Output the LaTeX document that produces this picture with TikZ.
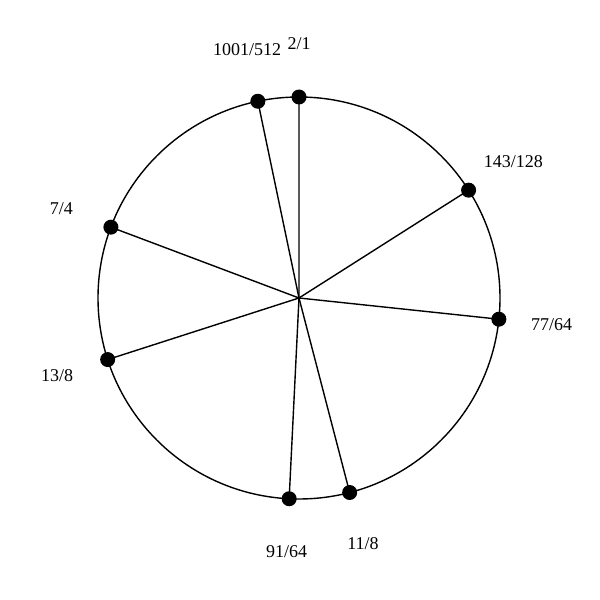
\documentclass[tikz,border=0pt]{standalone}
\usepackage{fontspec}
\setmainfont{Liberation Serif}
\begin{document}
\begin{tikzpicture}[x=1pt,y=1pt,line width=1.4pt]
\useasboundingbox (0,0) rectangle (600,600);
\pgfmathsetmacro{\R}{201}
\pgfmathsetmacro{\L}{254}
\coordinate (c) at (299,302);
\draw (c) circle (\R pt);
\foreach \name/\p/\q in {octave/2/1, big/1001/512, ninth/143/128, third/77/64,
                         fourth/11/8, tritone/91/64, sixth/13/8, seventh/7/4}
{
  \pgfmathsetmacro{\ang}{90-360*ln(\p/\q)/ln(2)}
  \coordinate (\name) at ([shift={(\ang:\R)}]c);
  \draw (c) -- (\name);
  \fill (\name) circle (7.5pt);
  \node[font=\fontsize{18}{21}\selectfont] (\name-lbl) at ([shift={(\ang:\L)}]c) {\p/\q};
}
\end{tikzpicture}
\end{document}
